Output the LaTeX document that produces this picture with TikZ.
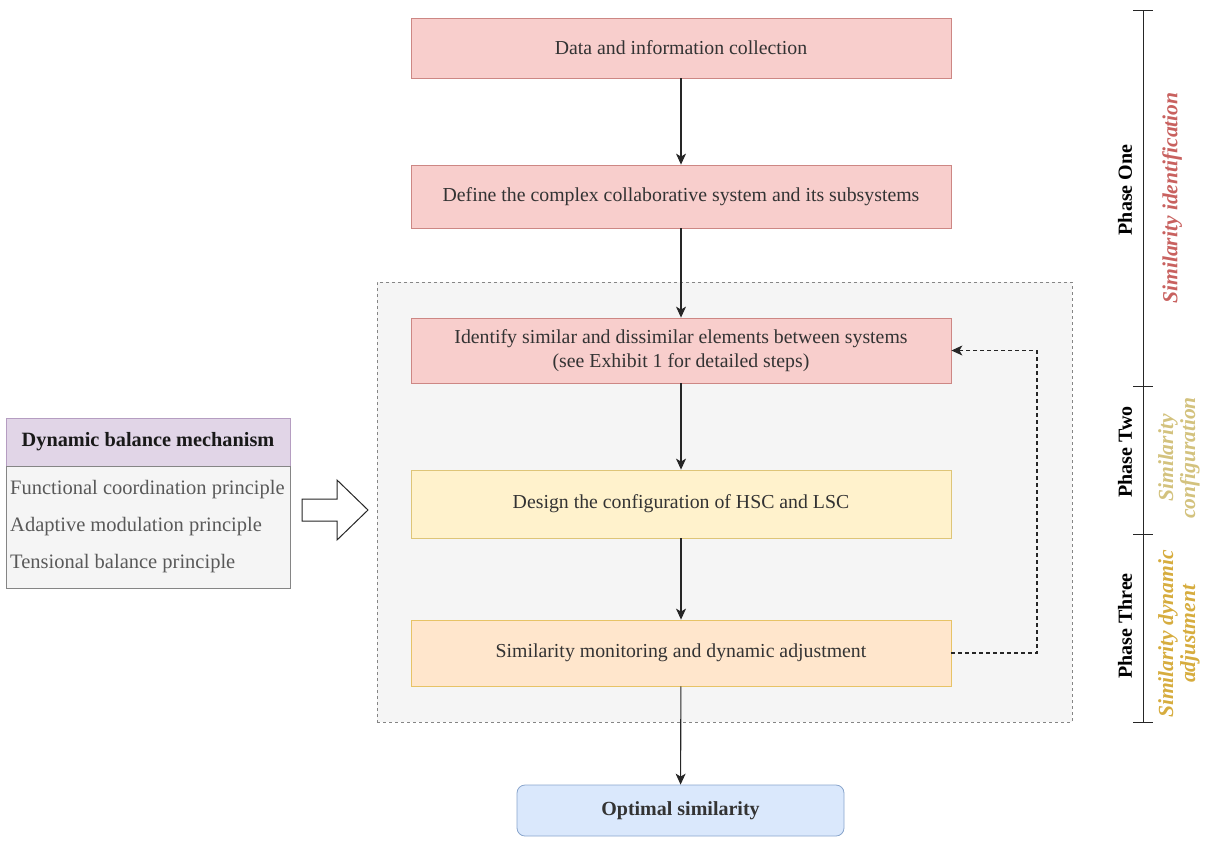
\documentclass[tikz,border=0pt]{standalone}
\usepackage{fontspec}
\setmainfont{Liberation Serif}
\usetikzlibrary{arrows.meta}
\definecolor{redfill}{HTML}{F8CECC}
\definecolor{reddraw}{HTML}{B85450}
\definecolor{yelfill}{HTML}{FFF2CC}
\definecolor{yeldraw}{HTML}{D6B656}
\definecolor{orafill}{HTML}{FFE6CC}
\definecolor{oradraw}{HTML}{D79B00}
\definecolor{bluefill}{HTML}{DAE8FC}
\definecolor{bluedraw}{HTML}{6C8EBF}
\definecolor{greyfill}{HTML}{F5F5F5}
\definecolor{greydraw}{HTML}{666666}
\definecolor{purfill}{HTML}{E1D5E7}
\definecolor{purdraw}{HTML}{9673A6}
\definecolor{txt}{HTML}{333333}
\definecolor{idcol}{HTML}{C8615F}
\definecolor{cfgcol}{HTML}{D3C27E}
\definecolor{adjcol}{HTML}{D6AC3E}
\tikzset{
  box/.style={draw, line width=0.8pt, minimum width=540pt, text=txt, align=center,
    font=\fontsize{19.8}{24}\selectfont, inner sep=0pt},
  redbox/.style={box, fill=redfill, draw=reddraw!70},
  yelbox/.style={box, fill=yelfill, draw=yeldraw!80},
  orabox/.style={box, fill=orafill, draw=oradraw!60},
  flow/.style={line width=1.1pt, draw=black!85, -{Stealth[length=11pt,width=10pt,inset=3pt]}},
  fback/.style={line width=1.1pt, draw=black!85, dash pattern=on 4pt off 3pt, -{Stealth[length=11pt,width=10pt,inset=3pt]}},
  phase/.style={rotate=90, font=\fontsize{20}{23}\selectfont\bfseries, text=black},
  phsub/.style={rotate=90, font=\fontsize{21.5}{22}\selectfont\bfseries\itshape, align=center},
  paneltext/.style={anchor=west, text=black!65, font=\fontsize{20.5}{24}\selectfont, inner sep=0pt},
}
\begin{document}
\begin{tikzpicture}[x=1pt,y=-1pt]
\useasboundingbox (0,0) rectangle (1215,841);
% container
\node[draw=greydraw!80, fill=greyfill, dash pattern=on 3pt off 3pt, line width=0.8pt,
  minimum width=695pt, minimum height=440pt, inner sep=0pt] (frame) at (724.5,502) {};
% boxes
\node[redbox, minimum height=60pt] (b1) at (681,48) {Data and information collection};
\node[redbox, minimum height=63pt] (b2) at (681,196.5) {Define the complex collaborative system and its subsystems};
\node[redbox, minimum height=65pt] (b3) at (681,350.5) {Identify similar and dissimilar elements between systems\\(see Exhibit 1 for detailed steps)};
\node[yelbox, minimum height=68pt] (b4) at (681,504) {Design the configuration of HSC and LSC};
\node[orabox, minimum height=66pt] (b5) at (681,653) {Similarity monitoring and dynamic adjustment};
\node[draw=bluedraw!80, fill=bluefill, rounded corners=8pt, line width=0.8pt, minimum width=327pt,
  minimum height=51pt, inner sep=0pt, text=txt, font=\fontsize{20}{24}\selectfont\bfseries] (b6) at (680.5,810.5) {Optimal similarity};
% flow arrows
\draw[flow] (b1) -- (b2);
\draw[flow] (b2) -- (b3);
\draw[flow] (b3) -- (b4);
\draw[flow] (b4) -- (b5);
\draw[flow] (b5) -- (b6);
\coordinate (fbA) at (1037,653);
\coordinate (fbB) at (1037,350.5);
\draw[fback] (b5.east) -- (fbA) -- (fbB) -- (b3.east);
% left panel
\node[draw=purdraw!70, fill=purfill, line width=0.8pt, minimum width=284pt, minimum height=48pt, inner sep=0pt,
  font=\fontsize{20.3}{23}\selectfont\bfseries, text=black!90] (ph) at (148,442) {Dynamic balance mechanism};
\node[draw=greydraw!80, fill=greyfill, line width=0.8pt, minimum width=284pt, minimum height=122pt, inner sep=0pt] (pb) at (148,527) {};
\node[paneltext] (t1) at (10,490) {Functional coordination principle};
\node[paneltext] (t2) at (10,527) {Adaptive modulation principle};
\node[paneltext] (t3) at (10,564) {Tensional balance principle};
% block arrow
\draw[line width=1pt, fill=white, draw=black!85, line join=miter]
  (302,499) -- (337,499) -- (337,480) -- (368,510) -- (337,540) -- (337,521) -- (302,521) -- cycle;
% right bar
\coordinate (r0) at (1143,10);
\coordinate (r1) at (1143,386);
\coordinate (r2) at (1143,534);
\coordinate (r3) at (1143,722);
\draw[line width=1pt, black!85] (r0) -- (r3);
\foreach \c in {r0,r1,r2,r3} \draw[line width=1pt, black!85] ([xshift=-10pt]\c) -- ([xshift=10pt]\c);
\node[phase] (p1) at (1125,190) {Phase One};
\node[phsub, text=idcol] (s1) at (1172,198) {Similarity identification};
\node[phase] (p2) at (1125,452) {Phase Two};
\node[phsub, text=cfgcol] (s2) at (1179,458) {Similarity\\configuration};
\node[phase] (p3) at (1125,626) {Phase Three};
\node[phsub, text=adjcol] (s3) at (1179,634) {Similarity dynamic\\adjustment};
\end{tikzpicture}
\end{document}
